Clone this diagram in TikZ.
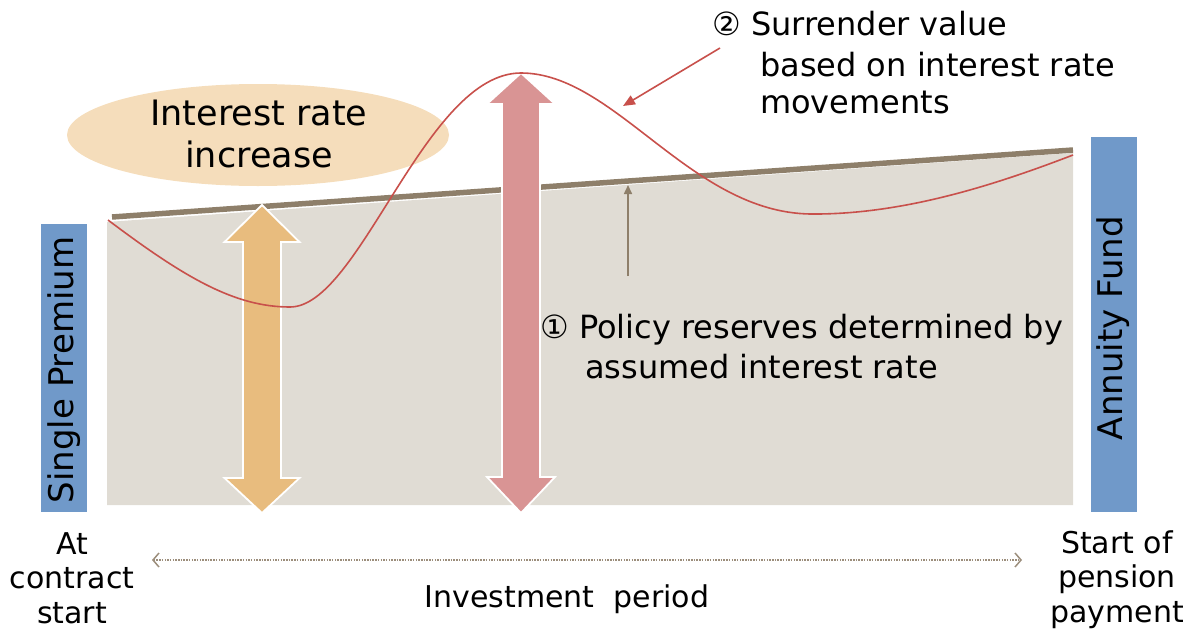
\documentclass[tikz,border=0pt]{standalone}
\usepackage{fontspec}
\setmainfont{DejaVu Sans}
\usetikzlibrary{arrows.meta,shapes.geometric}
\definecolor{grayfill}{HTML}{E0DCD4}
\definecolor{brownln}{HTML}{8E7F6A}
\definecolor{bluebox}{HTML}{7099C9}
\definecolor{orangear}{HTML}{E8BC7E}
\definecolor{redar}{HTML}{D99494}
\definecolor{redcurve}{HTML}{C8504B}
\definecolor{peach}{HTML}{F5DDBB}
\definecolor{dotbrown}{HTML}{9C8E7C}
\tikzset{
  bluebar/.style={fill=bluebox, draw=none},
  bigarrow/.style={draw=white, line width=1.8pt, line join=miter},
  txt/.style={inner sep=0pt, font=\fontsize{32}{38}\selectfont},
  btxt/.style={inner sep=0pt, align=center, font=\fontsize{30}{34.5}\selectfont},
  vtxt/.style={rotate=90, inner sep=0pt, font=\fontsize{34}{40}\selectfont},
}
\begin{document}
\begin{tikzpicture}[x=1pt,y=-1pt]
\useasboundingbox (0,0) rectangle (1183,635);
% gray area
\fill[grayfill] (107,222) -- (1073,153) -- (1073,505) -- (107,505) -- cycle;
% blue bars
\node[bluebar, minimum width=46pt, minimum height=288pt, inner sep=0pt] (sp) at (64,368) {};
\node[vtxt] (spt) at (64,370) {Single Premium};
\node[bluebar, minimum width=46pt, minimum height=375pt, inner sep=0pt] (af) at (1113.5,324.5) {};
\node[vtxt] (aft) at (1113,328) {Annuity Fund};
% ellipse
\node[ellipse, fill=peach, minimum width=382pt, minimum height=102pt, inner sep=0pt] (ell) at (258,135) {};
\node[align=center, inner sep=0pt, font=\fontsize{35}{42}\selectfont] (ir) at (259,134) {Interest rate\\increase};
% brown line
\coordinate (bl1) at (112,217);
\coordinate (bl2) at (1073,150);
\draw[brownln, line width=5.5pt] (bl1) -- (bl2);
% orange double arrow
\filldraw[bigarrow, fill=orangear] (262,205) -- (299.5,242) -- (281,242) -- (281,478) -- (299.5,478) -- (262,513) -- (224.5,478) -- (243,478) -- (243,242) -- (224.5,242) -- cycle;
% red double arrow
\filldraw[bigarrow, fill=redar] (521,73) -- (555,104) -- (540,104) -- (540,477) -- (555,477) -- (521,513) -- (487,477) -- (502,477) -- (502,104) -- (487,104) -- cycle;
% red curve
\draw[redcurve, line width=1.6pt] (108,220) .. controls (185,278) and (235,307) .. (290,307)
  .. controls (360,307) and (425,73) .. (521,73)
  .. controls (615,73) and (690,212) .. (810,214)
  .. controls (905,215) and (1000,183) .. (1073,155);
% small brown arrow
\coordinate (ba1) at (628,276);
\coordinate (ba2) at (628,185);
\draw[brownln, line width=1.6pt, -{Triangle[length=9pt,width=8pt]}] (ba1) -- (ba2);
% label 1
\node[txt, anchor=base west] (l1a) at (540,338) {① Policy reserves determined by};
\node[txt, anchor=base west] (l1b) at (585,378) {assumed interest rate};
% label 2
\node[txt, anchor=base west] (l2a) at (712,35) {② Surrender value};
\node[txt, anchor=base west] (l2b) at (760,76) {based on interest rate};
\node[txt, anchor=base west] (l2c) at (760,113) {movements};
\coordinate (rp) at (623,106);
\draw[redcurve, line width=1.6pt, -{Triangle[length=12pt,width=10pt]}] (720,48) -- (rp);
% bottom
\node[btxt, anchor=base] (cs) at (72,623) {At\\contract\\start};
\node[btxt, anchor=base] (pp) at (1117,622) {Start of\\pension\\payment};
\node[btxt, anchor=base] (ip) at (567,607) {Investment\ \ period};
\coordinate (d1) at (152,560);
\coordinate (d2) at (1022,560);
\draw[dotbrown, line width=2.5pt, dash pattern=on 1.5pt off 1.2pt, {Straight Barb[length=6pt,width=14pt,line width=1.5pt]}-{Straight Barb[length=6pt,width=14pt,line width=1.5pt]}] (d1) -- (d2);
\end{tikzpicture}
\end{document}
